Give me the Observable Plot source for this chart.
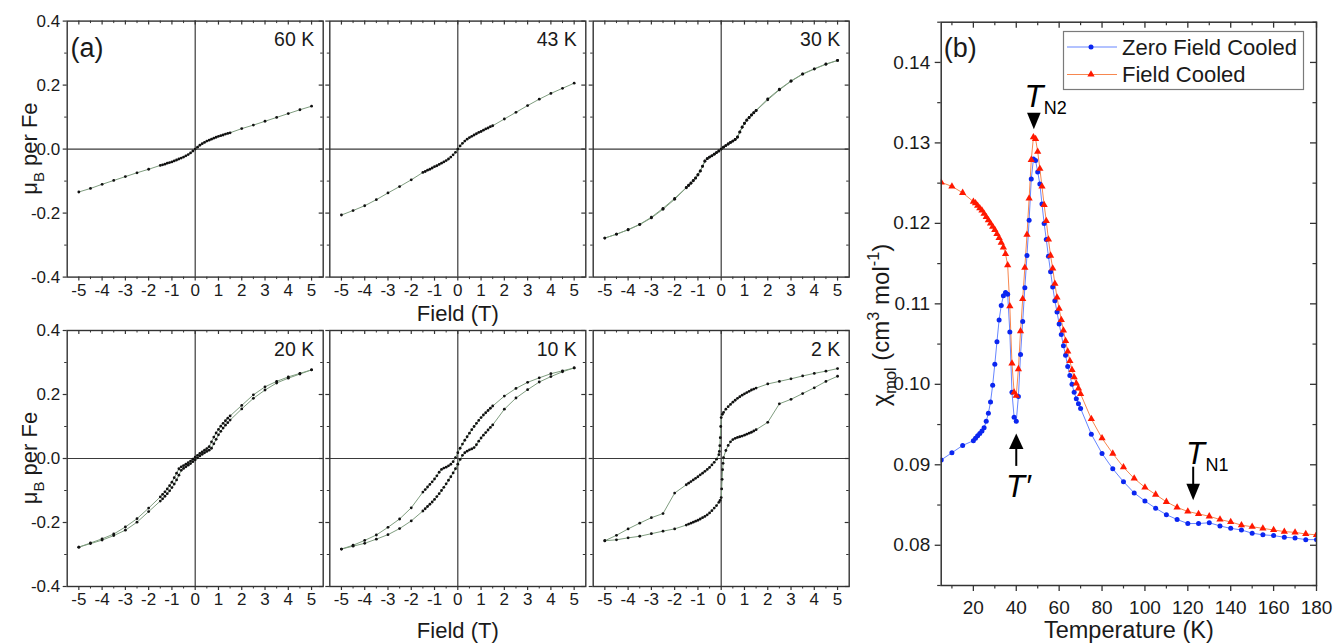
<!DOCTYPE html>
<html>
<head>
<meta charset="utf-8">
<script src="https://cdn.jsdelivr.net/npm/d3@7"></script>
<script src="https://cdn.jsdelivr.net/npm/@observablehq/plot@0.6"></script>
<style>
  html, body { margin: 0; padding: 0; background: #ffffff; }
  #chart { position: relative; width: 1334px; height: 643px; overflow: hidden; background: #ffffff; }
  #chart svg { position: absolute; left: 0; top: 0; background: transparent !important; overflow: visible; }
</style>
</head>
<body>
<div id="chart"></div>
<script>
// ================= DATA =================
// (a) magnetisation loops: field grid (T), descending order
const fieldGrid = [5,4.5,4,3.5,3,2.5,2,1.5,1.4,1.3,1.2,1.1,1.0,0.9,0.8,0.7,0.6,0.5,0.4,0.3,0.2,0.1,0,-0.1,-0.2,-0.3,-0.4,-0.5,-0.6,-0.7,-0.8,-0.9,-1.0,-1.1,-1.2,-1.3,-1.4,-1.5,-2,-2.5,-3,-3.5,-4,-4.5,-5];

const m60K = [0.134,0.123,0.111,0.099,0.087,0.075,0.064,0.051,0.049,0.047,0.044,0.042,0.040,0.037,0.034,0.031,0.028,0.025,0.021,0.017,0.012,0.006,0,-0.006,-0.012,-0.017,-0.021,-0.025,-0.028,-0.031,-0.034,-0.037,-0.040,-0.042,-0.044,-0.047,-0.049,-0.051,-0.063,-0.074,-0.086,-0.098,-0.110,-0.123,-0.134];

const m43K = [0.206,0.190,0.174,0.156,0.136,0.115,0.094,0.073,0.070,0.066,0.063,0.059,0.055,0.052,0.048,0.044,0.040,0.036,0.031,0.025,0.018,0.010,0,-0.010,-0.018,-0.025,-0.031,-0.036,-0.040,-0.044,-0.048,-0.052,-0.055,-0.059,-0.063,-0.066,-0.070,-0.073,-0.096,-0.117,-0.137,-0.158,-0.177,-0.192,-0.206];

const m30Kdown = [0.277,0.266,0.251,0.235,0.213,0.187,0.157,0.121,0.114,0.107,0.099,0.091,0.081,0.069,0.054,0.038,0.030,0.025,0.021,0.016,0.011,0.006,0,-0.006,-0.011,-0.016,-0.021,-0.025,-0.030,-0.037,-0.053,-0.068,-0.080,-0.090,-0.098,-0.106,-0.113,-0.120,-0.154,-0.185,-0.213,-0.235,-0.252,-0.266,-0.278];
const m30Kup = [0.277,0.265,0.250,0.234,0.212,0.185,0.154,0.120,0.113,0.106,0.098,0.090,0.080,0.068,0.053,0.037,0.030,0.025,0.021,0.016,0.011,0.006,0,-0.006,-0.011,-0.016,-0.021,-0.025,-0.030,-0.038,-0.054,-0.069,-0.081,-0.091,-0.099,-0.107,-0.114,-0.121,-0.157,-0.188,-0.215,-0.236,-0.252,-0.266,-0.278];

const m20Kdown = [0.277,0.266,0.255,0.241,0.224,0.199,0.166,0.133,0.126,0.118,0.110,0.101,0.091,0.080,0.067,0.052,0.037,0.031,0.026,0.021,0.016,0.010,0.004,-0.002,-0.008,-0.013,-0.018,-0.022,-0.026,-0.032,-0.046,-0.060,-0.074,-0.085,-0.095,-0.104,-0.112,-0.120,-0.155,-0.188,-0.214,-0.236,-0.251,-0.264,-0.277];
const m20Kup = [0.277,0.264,0.251,0.236,0.214,0.188,0.155,0.120,0.112,0.104,0.095,0.085,0.074,0.060,0.046,0.032,0.026,0.022,0.018,0.013,0.008,0.002,-0.004,-0.010,-0.016,-0.021,-0.026,-0.031,-0.037,-0.052,-0.067,-0.080,-0.091,-0.101,-0.110,-0.118,-0.126,-0.133,-0.166,-0.199,-0.224,-0.241,-0.255,-0.266,-0.277];

const m10Kdown = [0.283,0.274,0.265,0.252,0.238,0.219,0.195,0.164,0.157,0.150,0.143,0.136,0.128,0.119,0.110,0.100,0.090,0.079,0.068,0.057,0.045,0.032,0.018,0.003,-0.010,-0.018,-0.023,-0.027,-0.030,-0.034,-0.043,-0.054,-0.064,-0.073,-0.081,-0.089,-0.097,-0.105,-0.154,-0.189,-0.215,-0.239,-0.256,-0.271,-0.283];
const m10Kup = [0.283,0.271,0.256,0.239,0.215,0.189,0.154,0.105,0.097,0.089,0.081,0.073,0.064,0.054,0.043,0.034,0.030,0.027,0.023,0.018,0.010,-0.003,-0.018,-0.032,-0.045,-0.057,-0.068,-0.079,-0.090,-0.100,-0.110,-0.119,-0.128,-0.136,-0.143,-0.150,-0.157,-0.164,-0.195,-0.219,-0.238,-0.252,-0.265,-0.274,-0.283];

const field2Kdown = [5,4.5,4,3.5,3,2.5,2,1.5,1.4,1.3,1.2,1.1,1.0,0.9,0.8,0.7,0.6,0.5,0.4,0.3,0.2,0.1,0.05,0,-0.02,-0.04,-0.06,-0.08,-0.1,-0.2,-0.3,-0.4,-0.5,-0.6,-0.7,-0.8,-0.9,-1.0,-1.1,-1.2,-1.3,-1.4,-1.5,-2,-2.5,-3,-3.5,-4,-4.5,-5];
const m2Kdown = [0.281,0.273,0.266,0.258,0.249,0.241,0.233,0.220,0.217,0.214,0.210,0.206,0.202,0.198,0.193,0.188,0.182,0.176,0.169,0.162,0.154,0.144,0.138,0.128,0.100,0.065,0.040,0.022,0.012,-0.002,-0.012,-0.020,-0.028,-0.034,-0.040,-0.046,-0.051,-0.057,-0.062,-0.067,-0.072,-0.077,-0.082,-0.108,-0.172,-0.185,-0.202,-0.220,-0.240,-0.257];
const field2Kup = [-5,-4.5,-4,-3.5,-3,-2.5,-2,-1.5,-1.4,-1.3,-1.2,-1.1,-1.0,-0.9,-0.8,-0.7,-0.6,-0.5,-0.4,-0.3,-0.2,-0.1,-0.05,0,0.02,0.04,0.06,0.08,0.1,0.2,0.3,0.4,0.5,0.6,0.7,0.8,0.9,1.0,1.1,1.2,1.3,1.4,1.5,2,2.5,3,3.5,4,4.5,5];
const m2Kup = [-0.257,-0.254,-0.248,-0.243,-0.235,-0.227,-0.220,-0.208,-0.205,-0.202,-0.199,-0.196,-0.193,-0.189,-0.185,-0.181,-0.176,-0.170,-0.163,-0.155,-0.147,-0.137,-0.131,-0.122,-0.095,-0.065,-0.035,-0.015,0.003,0.025,0.041,0.052,0.059,0.063,0.066,0.068,0.070,0.073,0.076,0.079,0.082,0.086,0.090,0.113,0.171,0.185,0.203,0.221,0.241,0.257];

const panelLabels = ["60 K","43 K","30 K","20 K","10 K","2 K"];
const fieldTicks = [-5,-4,-3,-2,-1,0,1,2,3,4,5];
const fieldMinor = [-4.5,-3.5,-2.5,-1.5,-0.5,0.5,1.5,2.5,3.5,4.5];
const momentTicks = [-0.4,-0.2,0.0,0.2,0.4];
const momentMinor = [-0.3,-0.1,0.1,0.3];

// (b) susceptibility
const tempK = [5,10,15,20,21,22,23,24,25,26,27,28,29,30,31,32,33,34,35,36,37,38,39,40,41,42,43,44,45,46,47,48,49,50,51,52,53,54,55,56,57,58,59,60,61,62,63,64,65,66,67,68,69,70,75,80,85,90,95,100,105,110,115,120,125,130,135,140,145,150,155,160,165,170,175,180];
const chiZFC = [0.0906,0.0915,0.0924,0.0930,0.0933,0.0936,0.0939,0.0942,0.0946,0.0954,0.0964,0.0978,0.0999,0.1025,0.1053,0.1080,0.1098,0.1110,0.1114,0.1112,0.1065,0.0990,0.0959,0.0954,0.0985,0.1037,0.1078,0.1120,0.1160,0.1204,0.1255,0.1280,0.1278,0.1264,0.1249,0.1224,0.1200,0.1180,0.1159,0.1140,0.1121,0.1104,0.1090,0.1075,0.1062,0.1048,0.1036,0.1022,0.1011,0.1000,0.0990,0.0982,0.0976,0.0970,0.0938,0.0914,0.0895,0.0879,0.0865,0.0855,0.0846,0.0838,0.0832,0.0827,0.0827,0.0828,0.0824,0.0821,0.0819,0.0815,0.0813,0.0812,0.0810,0.0809,0.0807,0.0807];
const chiFC = [0.1251,0.1246,0.1238,0.1227,0.1225,0.1222,0.1219,0.1216,0.1212,0.1208,0.1204,0.1200,0.1196,0.1192,0.1187,0.1182,0.1176,0.1170,0.1162,0.1148,0.1097,0.1026,0.0990,0.0986,0.1019,0.1066,0.1106,0.1145,0.1186,0.1231,0.1279,0.1307,0.1305,0.1289,0.1268,0.1246,0.1223,0.1203,0.1180,0.1160,0.1144,0.1125,0.1108,0.1094,0.1080,0.1067,0.1054,0.1041,0.1029,0.1018,0.1009,0.1001,0.0995,0.0988,0.0957,0.0933,0.0914,0.0897,0.0883,0.0872,0.0863,0.0854,0.0847,0.0842,0.0839,0.0836,0.0832,0.0829,0.0825,0.0823,0.0821,0.0819,0.0817,0.0816,0.0814,0.0813];
const seriesNames = ["Zero Field Cooled", "Field Cooled"];
const tempTicks = [20,40,60,80,100,120,140,160,180];
const tempMinor = [10,30,50,70,90,110,130,150,170];
const chiTicks = [0.08,0.09,0.10,0.11,0.12,0.13,0.14];
const chiMinor = [0.075,0.085,0.095,0.105,0.115,0.125,0.135,0.145];

// transition annotations (data coordinates)
const annoText = [
  {main: "T", sub: "N2", T: 48.2, chi: 0.1345},
  {main: "T", sub: "N1", T: 123.6, chi: 0.0901},
  {main: "T\u2032", sub: "", T: 41.0, chi: 0.0860}
];
const arrowDownTips = [{T: 48.2, chi: 0.1317}, {T: 122.5, chi: 0.0856}];
const arrowUpTips = [{T: 40.0, chi: 0.0939}];
const arrowShafts = [{T: 122.5, chi1: 0.0897, chi2: 0.0875}, {T: 40.0, chi1: 0.0921, chi2: 0.0898}];

// ================= LAYOUT / STYLE =================
const W = 1334, H = 643;
const FONT = "'Liberation Sans', Arial, Helvetica, sans-serif";
const INK = "#1a1a1a";
const FRAME = "#333333";
const colLeft = [66.7, 329.3, 592.7], panelW = 256;
const rowTop = [20.6, 330], panelH = 256;
const fieldTitleDy = [44, 51];
const bBox = {left: 940.7, right: 1316, top: 21.7, bottom: 585};
const chart = document.getElementById("chart");

const mhPanels = [
  {col: 0, row: 0, branches: [[fieldGrid, m60K]]},
  {col: 1, row: 0, branches: [[fieldGrid, m43K]]},
  {col: 2, row: 0, branches: [[fieldGrid, m30Kdown], [fieldGrid, m30Kup]]},
  {col: 0, row: 1, branches: [[fieldGrid, m20Kdown], [fieldGrid, m20Kup]]},
  {col: 1, row: 1, branches: [[fieldGrid, m10Kdown], [fieldGrid, m10Kup]]},
  {col: 2, row: 1, branches: [[field2Kdown, m2Kdown], [field2Kup, m2Kup]]}
];

function addRotLabel(svg, x, y, parts, size) {
  const t = d3.select(svg).append("text")
    .attr("transform", `translate(${x},${y}) rotate(-90)`)
    .attr("text-anchor", "middle")
    .attr("font-family", FONT)
    .attr("font-size", size)
    .attr("fill", INK);
  let shift = 0;
  for (const p of parts) {
    const target = p.sub ? 0.3 * size : p.sup ? -0.42 * size : 0;
    const s = t.append("tspan").text(p.t).attr("dy", target - shift);
    if (p.sub || p.sup) s.attr("font-size", size * 0.68);
    shift = target;
  }
}

mhPanels.forEach((p, k) => {
  const left = colLeft[p.col], top = rowTop[p.row];
  const pts = p.branches.flatMap(([hs, ms], b) => hs.map((h, i) => ({H: h, M: ms[i], b})));
  const marks = [
    Plot.ruleX([0], {stroke: "#3a3a3a", strokeWidth: 1.2}),
    Plot.ruleY([0], {stroke: "#3a3a3a", strokeWidth: 1.2}),
    Plot.line(pts, {x: "H", y: "M", z: "b", stroke: "#7f9d7f", strokeWidth: 1}),
    Plot.dot(pts, {x: "H", y: "M", r: 1.4, fill: "#111", stroke: "none"}),
    Plot.frame({stroke: FRAME, strokeWidth: 1.4}),
    Plot.tickX(fieldTicks, {x: d => d, insetTop: panelH, insetBottom: -4, stroke: FRAME, strokeWidth: 1.2}),
    Plot.tickX(fieldMinor, {x: d => d, insetTop: panelH, insetBottom: -2.5, stroke: FRAME}),
    Plot.tickX(fieldTicks, {x: d => d, insetBottom: panelH - 4, stroke: FRAME, strokeWidth: 1.2}),
    Plot.tickX(fieldMinor, {x: d => d, insetBottom: panelH - 2.5, stroke: FRAME}),
    Plot.tickY(momentTicks, {y: d => d, insetLeft: -4, insetRight: panelW, stroke: FRAME, strokeWidth: 1.2}),
    Plot.tickY(momentMinor, {y: d => d, insetLeft: -2.5, insetRight: panelW, stroke: FRAME}),
    Plot.tickY(momentTicks, {y: d => d, insetLeft: panelW - 4, stroke: FRAME, strokeWidth: 1.2}),
    Plot.tickY(momentMinor, {y: d => d, insetLeft: panelW - 2.5, stroke: FRAME}),
    Plot.text(fieldTicks, {x: d => d, frameAnchor: "bottom", dy: 6.5, lineAnchor: "top", text: d => String(d), fontSize: 17, fill: INK}),
    Plot.text([panelLabels[k]], {frameAnchor: "top-right", dx: -9, dy: 25, textAnchor: "end", lineAnchor: "bottom", text: d => d, fontSize: 19.5, fill: INK})
  ];
  if (p.col === 0) {
    marks.push(Plot.text(momentTicks, {y: d => d, frameAnchor: "left", dx: -7, textAnchor: "end", text: d => d.toFixed(1), fontSize: 17, fill: INK}));
  }
  if (p.col === 1) {
    marks.push(Plot.text(["Field (T)"], {frameAnchor: "bottom", dy: fieldTitleDy[p.row], lineAnchor: "bottom", text: d => d, fontSize: 22, fill: INK}));
  }
  if (k === 0) {
    marks.push(Plot.text(["(a)"], {frameAnchor: "top-left", dx: 3.3, dy: 36, textAnchor: "start", lineAnchor: "bottom", text: d => d, fontSize: 27, fill: INK}));
  }
  const svg = Plot.plot({
    width: W, height: H,
    marginLeft: left, marginRight: W - left - panelW,
    marginTop: top, marginBottom: H - top - panelH,
    style: {background: "transparent", fontFamily: FONT, overflow: "visible"},
    x: {domain: [-5.5, 5.5], axis: null},
    y: {domain: [-0.4, 0.4], axis: null},
    marks
  });
  chart.appendChild(svg);
  if (p.col === 0) {
    addRotLabel(svg, 37, top + panelH / 2, [{t: "\u03BC"}, {t: "B", sub: true}, {t: " per Fe"}], 22);
  }
});

// ----- panel (b) -----
const zfc = tempK.map((t, i) => ({T: t, chi: chiZFC[i]}));
const fc = tempK.map((t, i) => ({T: t, chi: chiFC[i]}));
const ZFC_LINE = "#6685ff", ZFC_DOT = "#0b26f0";
const FC_LINE = "#f7874f", FC_DOT = "#ff1800";
const headDown = {draw(ctx) { ctx.moveTo(0, 0); ctx.lineTo(-6.8, -16.5); ctx.lineTo(6.8, -16.5); ctx.closePath(); }};
const headUp = {draw(ctx) { ctx.moveTo(0, 0); ctx.lineTo(-7.2, 15.5); ctx.lineTo(7.2, 15.5); ctx.closePath(); }};
const bW = bBox.right - bBox.left, bH = bBox.bottom - bBox.top;

const svgB = Plot.plot({
  width: W, height: H,
  marginLeft: bBox.left, marginRight: W - bBox.right,
  marginTop: bBox.top, marginBottom: H - bBox.bottom,
  style: {background: "transparent", fontFamily: FONT, overflow: "visible"},
  x: {domain: [5, 180], axis: null},
  y: {domain: [0.075, 0.145], axis: null},
  marks: [
    Plot.line(zfc, {x: "T", y: "chi", stroke: ZFC_LINE, strokeWidth: 1, clip: true}),
    Plot.line(fc, {x: "T", y: "chi", stroke: FC_LINE, strokeWidth: 1, clip: true}),
    Plot.dot(zfc, {x: "T", y: "chi", r: 2.5, fill: ZFC_DOT, stroke: "none", clip: true}),
    Plot.dot(fc, {x: "T", y: "chi", r: 2.7, symbol: "triangle", fill: FC_DOT, stroke: "none", clip: true}),
    Plot.frame({stroke: FRAME, strokeWidth: 1.5}),
    Plot.tickX(tempTicks, {x: d => d, insetTop: bH, insetBottom: -6, stroke: FRAME, strokeWidth: 1.3}),
    Plot.tickX(tempMinor, {x: d => d, insetTop: bH, insetBottom: -3.5, stroke: FRAME, strokeWidth: 1.2}),
    Plot.tickX(tempTicks, {x: d => d, insetBottom: bH - 6, stroke: FRAME, strokeWidth: 1.3}),
    Plot.tickX(tempMinor, {x: d => d, insetBottom: bH - 3.5, stroke: FRAME, strokeWidth: 1.2}),
    Plot.tickY(chiTicks, {y: d => d, insetLeft: -6, insetRight: bW, stroke: FRAME, strokeWidth: 1.3}),
    Plot.tickY(chiMinor, {y: d => d, insetLeft: -3.5, insetRight: bW, stroke: FRAME, strokeWidth: 1.2}),
    Plot.tickY(chiTicks, {y: d => d, insetLeft: bW - 6, stroke: FRAME, strokeWidth: 1.3}),
    Plot.tickY(chiMinor, {y: d => d, insetLeft: bW - 3.5, stroke: FRAME, strokeWidth: 1.2}),
    Plot.text(tempTicks, {x: d => d, frameAnchor: "bottom", dy: 15, lineAnchor: "top", text: d => String(d), fontSize: 19, fill: INK}),
    Plot.text(chiTicks, {y: d => d, frameAnchor: "left", dx: -11, textAnchor: "end", text: d => d.toFixed(2), fontSize: 19, fill: INK}),
    Plot.text(["Temperature (K)"], {frameAnchor: "bottom", dy: 52, lineAnchor: "bottom", text: d => d, fontSize: 23.5, fill: INK}),
    Plot.text(["(b)"], {frameAnchor: "top-left", dx: 2.6, dy: 35, textAnchor: "start", lineAnchor: "bottom", text: d => d, fontSize: 27, fill: INK}),
    // annotations
    Plot.ruleX(arrowShafts, {x: "T", y1: "chi1", y2: "chi2", stroke: "#000", strokeWidth: 2}),
    Plot.dot(arrowDownTips, {x: "T", y: "chi", symbol: headDown, fill: "#000", stroke: "none"}),
    Plot.dot(arrowUpTips, {x: "T", y: "chi", symbol: headUp, fill: "#000", stroke: "none"}),
    Plot.text(annoText, {x: "T", y: "chi", text: "main", fontStyle: "italic", fontSize: 31, textAnchor: "middle", lineAnchor: "bottom", fill: "#000"}),
    Plot.text(annoText, {x: "T", y: "chi", text: "sub", dx: 10, dy: 7, fontSize: 18, textAnchor: "start", lineAnchor: "bottom", fill: "#000"})
  ]
});
chart.appendChild(svgB);
addRotLabel(svgB, 889, 325, [{t: "\u03C7"}, {t: "mol", sub: true}, {t: " (cm"}, {t: "3", sup: true}, {t: " mol"}, {t: "-1", sup: true}, {t: ")"}], 24);

// legend (inside panel b)
const lg = d3.select(svgB).append("g").attr("font-family", FONT).attr("text-anchor", "start");
lg.append("rect").attr("x", 1063.5).attr("y", 31.5).attr("width", 240).attr("height", 58)
  .attr("fill", "#fff").attr("stroke", "#7a7a7a").attr("stroke-width", 1.2);
const legendStyles = [
  {line: ZFC_LINE, fill: ZFC_DOT, sym: d3.symbolCircle, size: Math.PI * 2.5 * 2.5, y: 47},
  {line: FC_LINE, fill: FC_DOT, sym: d3.symbolTriangle, size: Math.PI * 2.7 * 2.7, y: 74.5}
];
seriesNames.forEach((name, i) => {
  const s = legendStyles[i];
  lg.append("line").attr("x1", 1067).attr("x2", 1117).attr("y1", s.y).attr("y2", s.y).attr("stroke", s.line).attr("stroke-width", 1);
  lg.append("path").attr("d", d3.symbol(s.sym, s.size)()).attr("transform", `translate(1091,${s.y})`).attr("fill", s.fill);
  lg.append("text").attr("x", 1122).attr("y", s.y + 7.5).attr("font-size", 22).attr("fill", INK).attr("text-anchor", "start").text(name);
});
</script>
</body>
</html>
